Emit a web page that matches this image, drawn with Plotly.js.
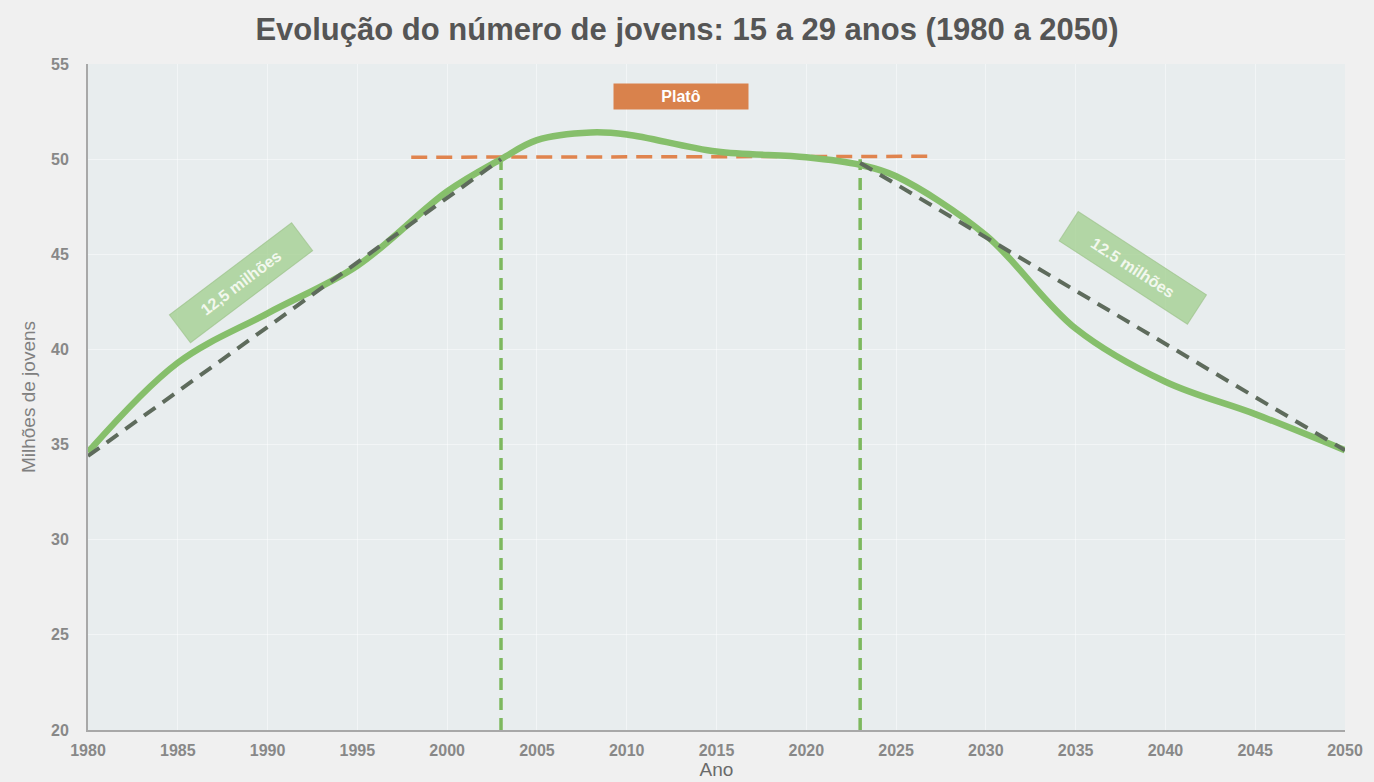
<!DOCTYPE html>
<html>
<head>
<meta charset="utf-8">
<script src="https://cdn.plot.ly/plotly-3.0.1.min.js"></script>
<style>html,body{margin:0;padding:0;background:#f0f0f0;}#chart{width:1374px;height:782px;}</style>
</head>
<body>
<div id="chart"></div>
<script>
// Data
const years = [1980, 1985, 1990, 1995, 2000, 2003, 2005, 2008, 2010, 2015, 2020, 2023, 2025, 2030, 2035, 2040, 2045, 2050];
const jovens = [34.6, 39.3, 41.9, 44.4, 48.3, 50.0, 51.0, 51.4, 51.3, 50.4, 50.1, 49.7, 49.1, 46.0, 41.1, 38.3, 36.6, 34.7];

const trendUpX = [1980, 2003];
const trendUpY = [34.4, 50.0];
const trendDownX = [2023, 2050];
const trendDownY = [49.8, 34.7];

const platoX = [1998, 2027.2];
const platoY = [50.1, 50.15];

const marker1X = [2003, 2003];
const marker2X = [2023, 2023];
const markerY = [20, 50];

const titleText = "Evolução do número de jovens: 15 a 29 anos (1980 a 2050)";
const xTickVals = [1980, 1985, 1990, 1995, 2000, 2005, 2010, 2015, 2020, 2025, 2030, 2035, 2040, 2045, 2050];
const yTickVals = [20, 25, 30, 35, 40, 45, 50, 55];

const traces = [
  {x: marker1X, y: markerY, mode: 'lines', line: {color: '#7db85e', width: 3.5, dash: '12px,8px'}, hoverinfo: 'skip'},
  {x: marker2X, y: markerY, mode: 'lines', line: {color: '#7db85e', width: 3.5, dash: '12px,8px'}, hoverinfo: 'skip'},
  {x: platoX, y: platoY, mode: 'lines', line: {color: '#e0844e', width: 3.5, dash: '16px,9px'}, hoverinfo: 'skip'},
  {x: years, y: jovens, mode: 'lines', line: {color: '#86bf6b', width: 6.5, shape: 'spline', smoothing: 1.0}, name: 'Jovens'},
  {x: trendUpX, y: trendUpY, mode: 'lines', line: {color: '#5e6b5c', width: 4, dash: '14px,9px'}, hoverinfo: 'skip'},
  {x: trendDownX, y: trendDownY, mode: 'lines', line: {color: '#5e6b5c', width: 4, dash: '14px,9px'}, hoverinfo: 'skip'}
];

const FONT = 'Liberation Sans, Arial, sans-serif';
const tickFont = {family: FONT, size: 16, color: '#888888', weight: 'bold'};

const layout = {
  width: 1374, height: 782,
  paper_bgcolor: '#f0f0f0',
  plot_bgcolor: '#e8edee',
  showlegend: false,
  margin: {l: 88, r: 29, t: 64, b: 52},
  title: {text: '<b>' + titleText + '</b>', x: 0.5, xanchor: 'center', y: 0.963, yanchor: 'middle',
          font: {family: FONT, size: 31, color: '#555555'}},
  xaxis: {range: [1980, 2050], tickvals: xTickVals, ticks: '', tickfont: tickFont, ticklabelstandoff: 5,
          showgrid: true, gridcolor: 'rgba(255,255,255,0.45)', gridwidth: 1, zeroline: false,
          showline: true, linecolor: '#a8a8a8', linewidth: 2,
          title: {text: 'Ano', standoff: 4, font: {family: FONT, size: 19, color: '#6a6a6a'}}},
  yaxis: {range: [20, 55], tickvals: yTickVals, ticks: '', tickfont: tickFont, ticklabelstandoff: 14,
          showgrid: true, gridcolor: 'rgba(255,255,255,0.45)', gridwidth: 1, zeroline: false,
          showline: true, linecolor: '#a8a8a8', linewidth: 2,
          title: {text: 'Milhões de jovens', standoff: 10, font: {family: FONT, size: 19, color: '#808080'}}},
  annotations: [
    {x: 2013, y: 53.3, xref: 'x', yref: 'y', text: '<b>Platô</b>', showarrow: false,
     font: {family: FONT, size: 16, color: '#ffffff'},
     bgcolor: '#d9824c', width: 130, height: 21, borderpad: 2},
    {x: 1988.5, y: 43.5, xref: 'x', yref: 'y', text: '<b>12,5 milhões</b>', showarrow: false, textangle: -37,
     font: {family: FONT, size: 16, color: '#f2f8ee'},
     bgcolor: 'rgba(160,206,140,0.75)', bordercolor: 'rgba(150,190,130,0.6)', width: 148, height: 30, borderpad: 2},
    {x: 2038.2, y: 44.3, xref: 'x', yref: 'y', text: '<b>12.5 milhões</b>', showarrow: false, textangle: 33,
     font: {family: FONT, size: 16, color: '#f2f8ee'},
     bgcolor: 'rgba(160,206,140,0.75)', bordercolor: 'rgba(150,190,130,0.6)', width: 148, height: 30, borderpad: 2}
  ]
};

Plotly.newPlot('chart', traces, layout, {displayModeBar: false, staticPlot: true});
</script>
</body>
</html>
